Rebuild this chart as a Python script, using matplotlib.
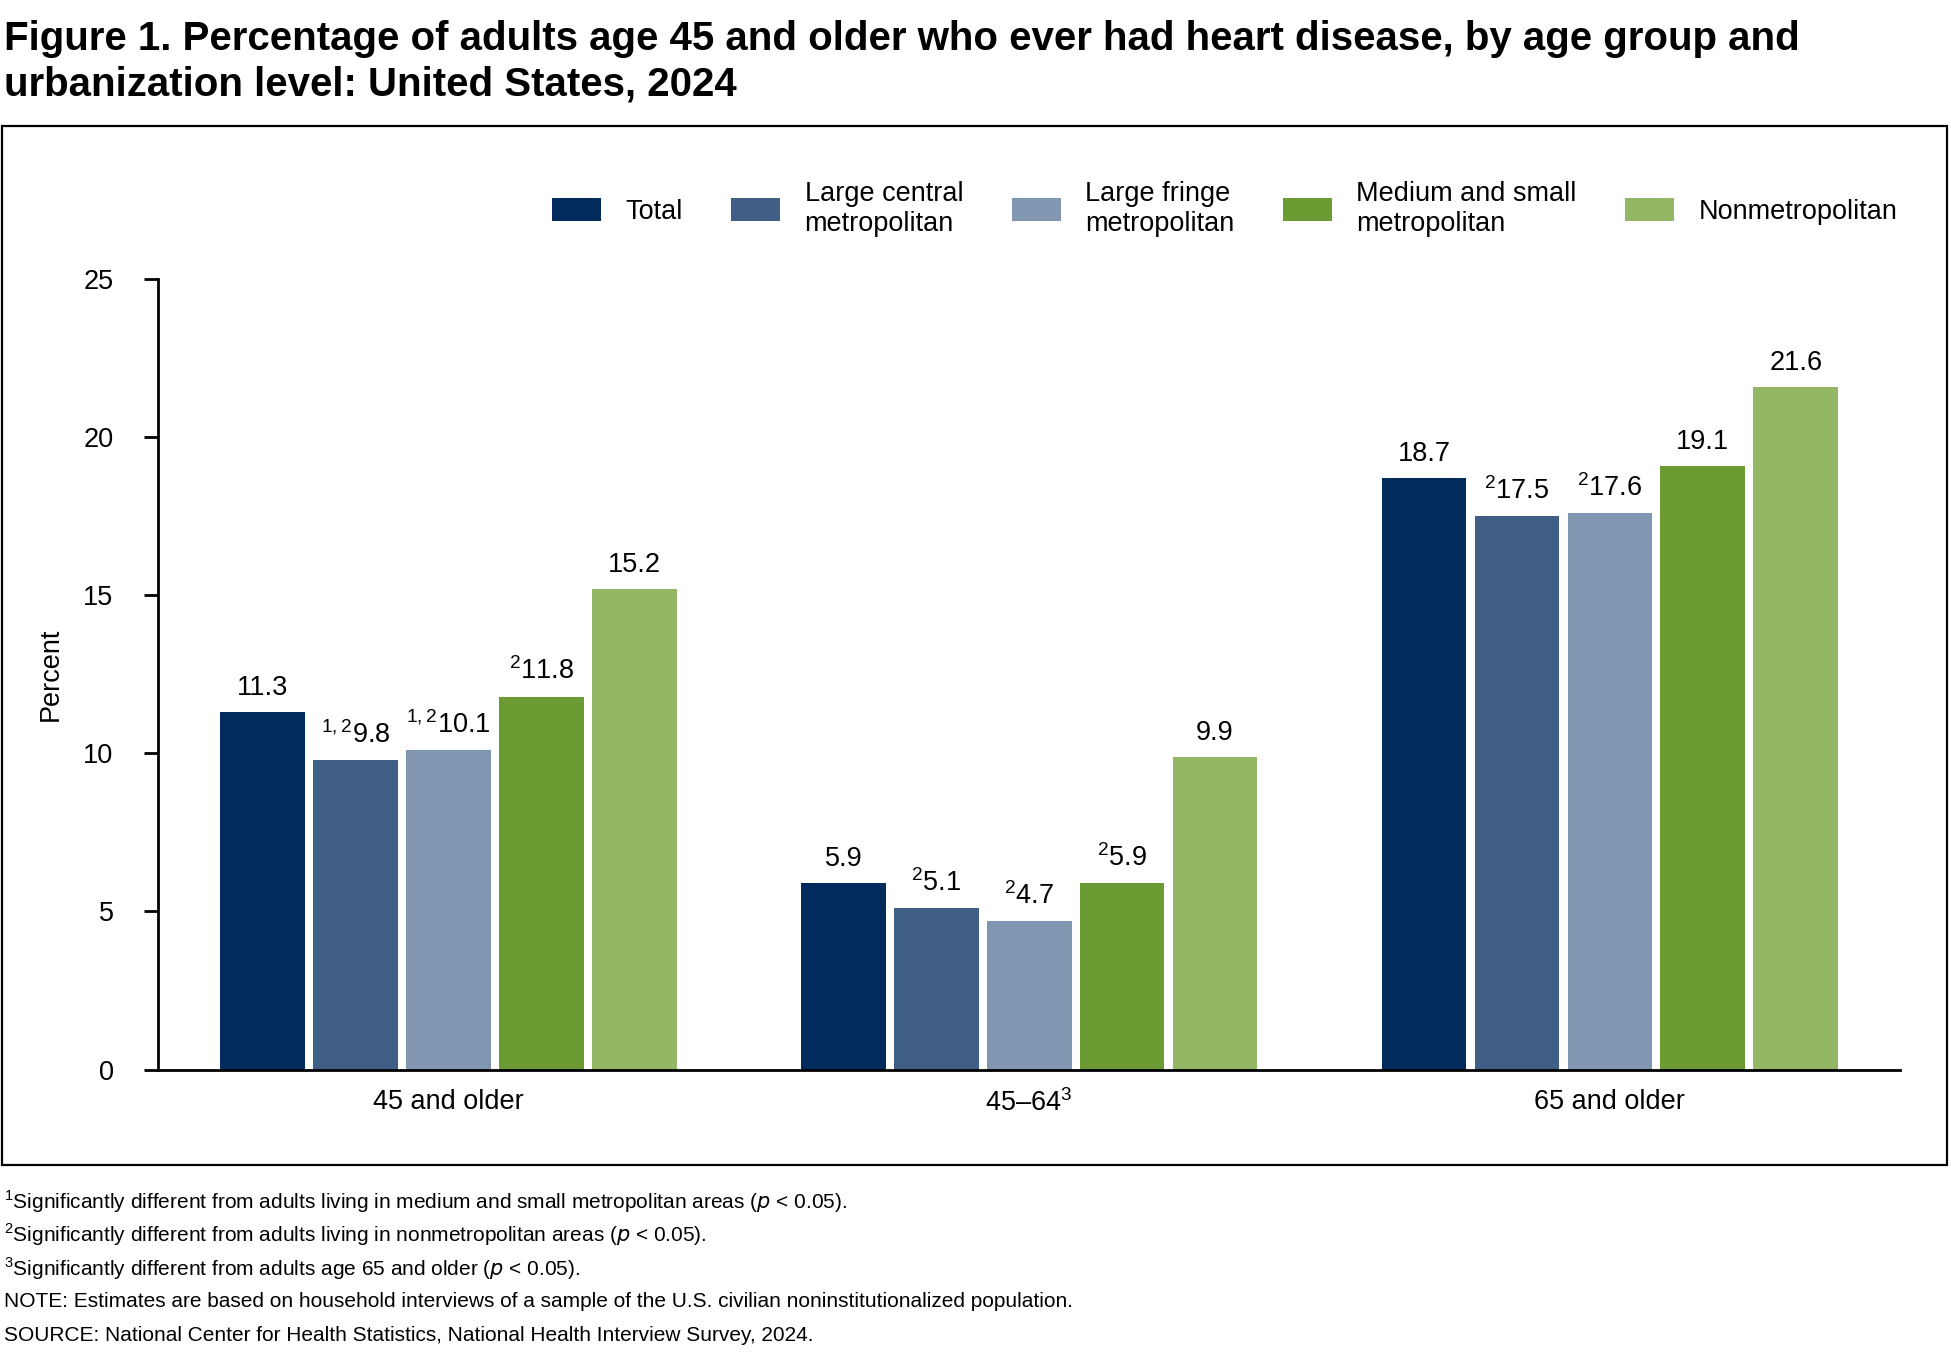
import matplotlib
matplotlib.use("Agg")
import matplotlib.pyplot as plt
import matplotlib.patches as mpatches
import numpy as np

plt.rcParams["font.family"] = ["Liberation Sans", "DejaVu Sans"]
plt.rcParams["mathtext.fontset"] = "custom"
plt.rcParams["mathtext.rm"] = "Liberation Sans"

# ── data ──
groups = ["45 and older", "45–64$^{3}$", "65 and older"]
series = ["Total", "Large central\nmetropolitan", "Large fringe\nmetropolitan",
          "Medium and small\nmetropolitan", "Nonmetropolitan"]
values = [
    [11.3, 5.9, 18.7],
    [9.8, 5.1, 17.5],
    [10.1, 4.7, 17.6],
    [11.8, 5.9, 19.1],
    [15.2, 9.9, 21.6],
]
marks = [
    ["", "", ""],
    ["1,2", "2", "2"],
    ["1,2", "2", "2"],
    ["2", "2", ""],
    ["", "", ""],
]
colors = ["#002b5c", "#3f5f86", "#8196b0", "#6b9b32", "#93b765"]

fig = plt.figure(figsize=(19.51, 13.6), dpi=100)
ax = fig.add_axes([0.081, 0.2136, 0.893, 0.581])

x = np.arange(len(groups))
width = 0.146
step = 0.16
for i, (vals, c) in enumerate(zip(values, colors)):
    pos = x + (i - 2) * step
    ax.bar(pos, vals, width, color=c, label=series[i])
    for p, v, m in zip(pos, vals, marks[i]):
        lab = (f"$^{{{m}}}$" if m else "") + f"{v:.1f}"
        ax.text(p, v + 0.35, lab, ha="center", va="bottom", fontsize=19.5)

ax.set_xlim(-0.5, 2.5)
ax.set_ylim(0, 25)
ax.set_yticks([0, 5, 10, 15, 20, 25])
ax.set_xticks(x)
ax.set_xticklabels(groups, fontsize=19.5)
ax.tick_params(axis="x", length=0, pad=14)
ax.tick_params(axis="y", labelsize=19.5, length=10, width=2, pad=22)
for s in ["top", "right"]:
    ax.spines[s].set_visible(False)
for s in ["left", "bottom"]:
    ax.spines[s].set_linewidth(2)
ax.set_ylabel("Percent", fontsize=19.5, labelpad=14)

fig.legend(loc="upper right", bbox_to_anchor=(0.985, 0.885), ncol=5,
           fontsize=19.5, frameon=False, handlelength=1.8, handleheight=0.9,
           columnspacing=1.8, handletextpad=0.9, alignment="left")

# outer box
fig.patches.append(mpatches.Rectangle((0.001, 0.1436), 0.997, 0.7634,
                                      transform=fig.transFigure, fill=False,
                                      edgecolor="black", linewidth=1.6))

fig.text(0.002, 0.985,
         "Figure 1. Percentage of adults age 45 and older who ever had heart disease, by age group and\n"
         "urbanization level: United States, 2024",
         ha="left", va="top", fontsize=29, fontweight="bold",
         family=["Liberation Sans Narrow", "Liberation Sans"], linespacing=1.25)

notes = [
    "$^{1}$Significantly different from adults living in medium and small metropolitan areas ($p$ < 0.05).",
    "$^{2}$Significantly different from adults living in nonmetropolitan areas ($p$ < 0.05).",
    "$^{3}$Significantly different from adults age 65 and older ($p$ < 0.05).",
    "NOTE: Estimates are based on household interviews of a sample of the U.S. civilian noninstitutionalized population.",
    "SOURCE: National Center for Health Statistics, National Health Interview Survey, 2024.",
]
for k, n in enumerate(notes):
    fig.text(0.002, 1 - (972 + 27 * k) / 1100, n, ha="left", va="center", fontsize=15)

fig.savefig("out.png", dpi=100)
